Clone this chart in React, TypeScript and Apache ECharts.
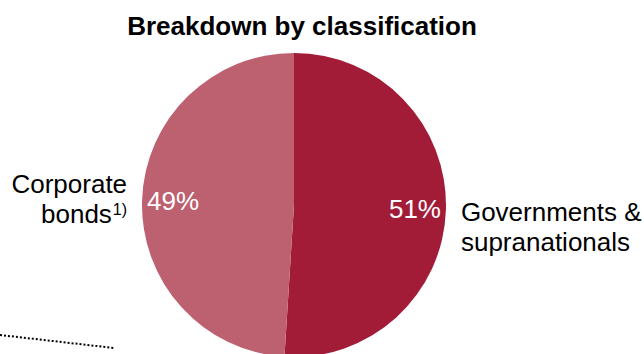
import React, { useEffect, useRef } from "react";
import * as echarts from "echarts";

const titleText = "Breakdown by classification";
const categories = ["Governments & supranationals", "Corporate bonds"];
const shares = [51, 49];
const colors = ["#A21C38", "#BD6070"];

const FONT = "'Liberation Sans', Arial, sans-serif";

export default function App() {
  const ref = useRef<HTMLDivElement>(null);
  useEffect(() => {
    document.body.style.margin = "0";
    const chart = echarts.init(ref.current!, undefined, { renderer: "svg" });
    const data = categories.map((name, i) => ({
      name,
      value: shares[i],
      itemStyle: { color: colors[i] },
    }));
    chart.setOption({
      animation: false,
      title: {
        text: titleText,
        left: 297,
        textAlign: "center",
        top: 8,
        textStyle: { fontFamily: FONT, fontSize: 26, fontWeight: "bold", color: "#000" },
      },
      series: [
        {
          type: "pie",
          center: [294, 205],
          radius: [0, 152],
          startAngle: 90,
          clockwise: true,
          silent: true,
          data,
          itemStyle: { borderWidth: 0 },
          labelLine: { show: false, length: 0, length2: 10 },
          label: {
            show: true,
            position: "outside",
            overflow: "none",
            fontFamily: FONT,
            fontSize: 26,
            color: "#000",
            lineHeight: 30,
            formatter: (p: any) =>
              p.dataIndex === 0
                ? "{a|Governments &}\n{a|supranationals}"
                : "{a|Corporate}\n{a|bonds}{s|1)}",
            rich: {
              a: { fontFamily: FONT, fontSize: 26, lineHeight: 30, color: "#000" },
              s: { fontFamily: FONT, fontSize: 16, lineHeight: 30, verticalAlign: "top", color: "#000", padding: [2, 0, 0, 1] },
            },
          },
          labelLayout: (p: any) => (p.dataIndex === 0 ? { dy: 17 } : { dy: -1 }),
        },
        {
          type: "pie",
          center: [294, 205],
          radius: [84, 152],
          startAngle: 90,
          clockwise: true,
          silent: true,
          data: categories.map((name, i) => ({ name, value: shares[i] })),
          itemStyle: { color: "transparent", borderWidth: 0 },
          labelLine: { show: false },
          label: {
            show: true,
            position: "inside",
            fontFamily: FONT,
            fontSize: 26,
            color: "#fff",
            formatter: (p: any) => `${p.value}%`,
          },
        },
      ],
      graphic: [
        {
          type: "line",
          shape: { x1: 0, y1: 335, x2: 114, y2: 348 },
          style: { stroke: "#000", lineWidth: 2, lineDash: [2, 2] },
          silent: true,
        },
      ],
    });
    return () => chart.dispose();
  }, []);
  return <div ref={ref} style={{ width: 644, height: 354 }} />;
}
